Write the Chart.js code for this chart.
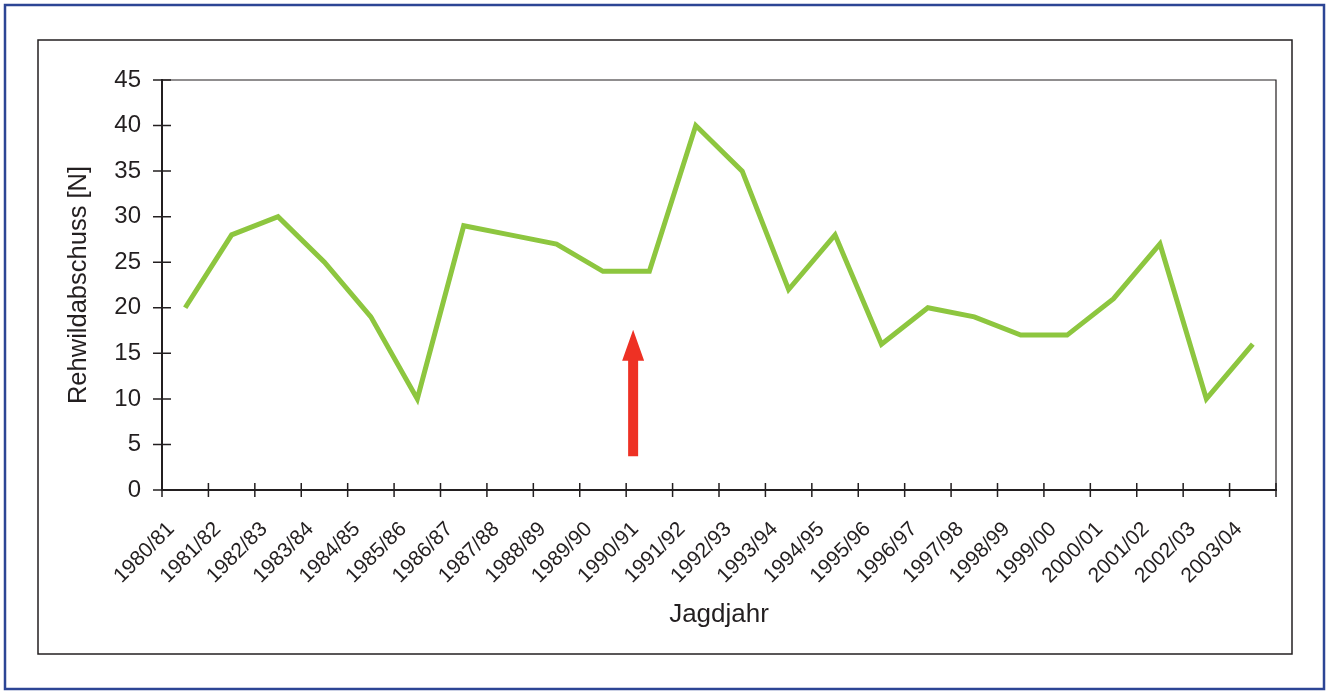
<!DOCTYPE html>
<html>
<head>
<meta charset="utf-8">
<script src="https://cdn.jsdelivr.net/npm/chart.js@4/dist/chart.umd.min.js"></script>
<style>
  body { margin: 0; background: #fff; }
  #wrap { width: 1330px; height: 693px; position: relative; }
</style>
</head>
<body>
<div id="wrap"><canvas id="chart"></canvas></div>
<script>
// Jagdjahre und Rehwildabschuss
const seasons = ['1980/81', '1981/82', '1982/83', '1983/84', '1984/85', '1985/86', '1986/87', '1987/88',
    '1988/89', '1989/90', '1990/91', '1991/92', '1992/93', '1993/94', '1994/95', '1995/96', '1996/97',
    '1997/98', '1998/99', '1999/00', '2000/01', '2001/02', '2002/03', '2003/04'];
const abschuss = [20, 28, 30, 25, 19, 10, 29, 28, 27, 24, 24, 40, 35, 22, 28, 16, 20, 19, 17, 17, 21, 27, 10, 16];
const yTicks = [0, 5, 10, 15, 20, 25, 30, 35, 40, 45];

// roter Pfeil (Kategorie-Index, von / bis in Abschuss-Einheiten)
const arrowAt = 9.65;
const arrowFrom = 3.7;
const arrowTo = 17.6;

const ink = '#231f20';
const fontFamily = 'Liberation Sans, Arial, sans-serif';

const framePlugin = {
    id: 'frame',
    beforeDraw(chart) {
        const c = chart.ctx;
        c.save();
        c.fillStyle = '#fff';
        c.fillRect(0, 0, chart.width, chart.height);
        c.strokeStyle = '#2c4595';
        c.lineWidth = 2.5;
        c.strokeRect(5, 5, 1319, 684);
        c.strokeStyle = ink;
        c.lineWidth = 1.5;
        c.strokeRect(38, 40, 1254, 614);
        c.restore();
    },
    afterDraw(chart) {
        const c = chart.ctx;
        const { left, right, top, bottom } = chart.chartArea;
        const x = chart.scales.x;
        const y = chart.scales.y;
        c.save();
        // obere und rechte Rahmenlinie
        c.strokeStyle = ink;
        c.lineWidth = 1.2;
        c.beginPath();
        c.moveTo(left, top);
        c.lineTo(right, top);
        c.lineTo(right, bottom);
        c.stroke();
        // Teilstriche
        c.lineWidth = 1.5;
        c.beginPath();
        yTicks.forEach(v => {
            const py = y.getPixelForValue(v);
            c.moveTo(left - 9, py);
            c.lineTo(left + 9, py);
        });
        for (let i = 0; i <= seasons.length; i++) {
            const px = x.getPixelForValue(i - 0.5);
            c.moveTo(px, bottom - 7);
            c.lineTo(px, bottom + 7);
        }
        c.stroke();
        // Pfeil
        const ax = x.getPixelForValue(arrowAt);
        const y0 = y.getPixelForValue(arrowFrom);
        const y1 = y.getPixelForValue(arrowTo);
        const headH = 31, headW = 11, shaft = 5;
        c.fillStyle = '#ee3124';
        c.beginPath();
        c.moveTo(ax - shaft, y0);
        c.lineTo(ax - shaft, y1 + headH);
        c.lineTo(ax - headW, y1 + headH);
        c.lineTo(ax, y1);
        c.lineTo(ax + headW, y1 + headH);
        c.lineTo(ax + shaft, y1 + headH);
        c.lineTo(ax + shaft, y0);
        c.closePath();
        c.fill();
        c.restore();
    }
};

new Chart(document.getElementById('chart'), {
    type: 'line',
    data: {
        labels: seasons,
        datasets: [{
            data: abschuss,
            borderColor: '#8dc63f',
            borderWidth: 5,
            pointRadius: 0,
            tension: 0,
            fill: false,
        }],
    },
    options: {
        responsive: true,
        maintainAspectRatio: false,
        animation: false,
        layout: { padding: { left: 0, top: 80, right: 54, bottom: 0 } },
        scales: {
            x: {
                offset: true,
                grid: { display: false, offset: true },
                border: { display: true, color: ink, width: 2 },
                ticks: {
                    autoSkip: false,
                    minRotation: 45,
                    maxRotation: 45,
                    padding: 19,
                    labelOffset: -14,
                    color: ink,
                    font: { family: fontFamily, size: 21 },
                },
                title: {
                    display: true,
                    text: 'Jagdjahr',
                    color: ink,
                    font: { family: fontFamily, size: 26 },
                    padding: { top: 0, bottom: 63 },
                },
                afterFit: s => { s.height = 203; },
            },
            y: {
                min: 0,
                max: 45,
                grid: { display: false },
                border: { display: true, color: ink, width: 2 },
                afterBuildTicks: s => { s.ticks = yTicks.map(v => ({ value: v })); },
                ticks: {
                    padding: 13,
                    color: ink,
                    font: { family: fontFamily, size: 24 },
                },
                title: {
                    display: true,
                    text: 'Rehwildabschuss [N]',
                    color: ink,
                    font: { family: fontFamily, size: 25.5 },
                    padding: { top: 64, bottom: 0 },
                },
                afterFit: s => { s.width = 162; },
            },
        },
        plugins: {
            legend: { display: false },
            tooltip: { enabled: false },
        },
    },
    plugins: [framePlugin],
});
</script>
</body>
</html>
